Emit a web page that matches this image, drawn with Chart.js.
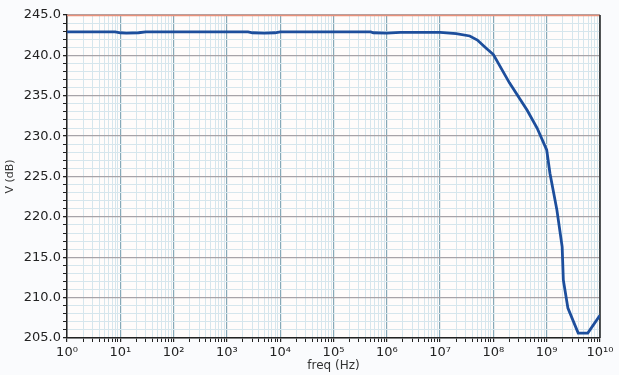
<!DOCTYPE html>
<html>
<head>
<meta charset="utf-8">
<script src="https://cdn.jsdelivr.net/npm/chart.js@4/dist/chart.umd.min.js"></script>
<style>
  html, body { margin: 0; padding: 0; background: #fafbfd; }
  #wrap { width: 619px; height: 375px; }
</style>
</head>
<body>
<div id="wrap"><canvas id="chartFreq" width="619" height="375"></canvas></div>
<script>
// ===============================
// DADOS
// ===============================
const freqHz = [1, 8, 10, 13, 22, 30, 100, 1000, 2500, 3000, 5000, 8000, 1e4, 1.3e4, 1e5, 5e5, 5.6e5, 1e6, 1.8e6, 3e6, 5e6,
                1e7, 2e7, 3.6e7, 5e7, 7.6e7, 1e8, 2e8, 4.3e8, 6.6e8, 1e9, 1.15e9, 1.55e9, 1.95e9, 2.05e9, 2.5e9, 3.9e9, 5.9e9, 1e10];
const vdB    = [242.9, 242.9, 242.8, 242.75, 242.8, 242.9, 242.9, 242.9, 242.9, 242.8, 242.75, 242.8, 242.9, 242.9, 242.9, 242.9, 242.8, 242.75, 242.85, 242.85, 242.85,
                242.85, 242.7, 242.4, 241.9, 240.8, 240.1, 236.6, 233.2, 231.0, 228.3, 225.4, 220.9, 216.3, 212.2, 208.7, 205.6, 205.6, 207.8];
const yTicks = [205, 210, 215, 220, 225, 230, 235, 240, 245];
const decades = [0, 1, 2, 3, 4, 5, 6, 7, 8, 9, 10];

const SUP = { "0": "\u2070", "1": "\u00b9", "2": "\u00b2", "3": "\u00b3", "4": "\u2074",
              "5": "\u2075", "6": "\u2076", "7": "\u2077", "8": "\u2078", "9": "\u2079" };
const sup = n => String(n).split("").map(c => SUP[c]).join("");

const isDecade = v => Math.abs(Math.log10(v) - Math.round(Math.log10(v))) < 1e-9;

// fundo da área do gráfico + moldura (topo vermelho, direita preta)
const plotFrame = {
    id: "plotFrame",
    beforeDraw(chart) {
        const { ctx, chartArea: a } = chart;
        ctx.save();
        ctx.fillStyle = "#fffcfb";
        ctx.fillRect(a.left, a.top, a.right - a.left, a.bottom - a.top);
        ctx.restore();
    },
    beforeDatasetsDraw(chart) {
        const { ctx, chartArea: a } = chart;
        ctx.save();
        ctx.lineWidth = 1.3;
        ctx.strokeStyle = "#e8907a";
        ctx.beginPath();
        ctx.moveTo(a.left, a.top + 0.5);
        ctx.lineTo(a.right, a.top + 0.5);
        ctx.stroke();
        ctx.lineWidth = 1.5;
        ctx.strokeStyle = "#222";
        ctx.beginPath();
        ctx.moveTo(a.right, a.top);
        ctx.lineTo(a.right, a.bottom);
        ctx.stroke();
        ctx.restore();
    }
};

new Chart(document.getElementById("chartFreq"), {
    type: "line",
    data: {
        datasets: [{
            label: "V (dB)",
            data: freqHz.map((f, i) => ({ x: f, y: vdB[i] })),
            borderColor: "#1d4e9c",
            borderWidth: 2.8,
            pointRadius: 0,
            tension: 0,
            fill: false
        }]
    },
    options: {
        responsive: false,
        animation: false,
        layout: { padding: { left: 0, right: 19, top: 15, bottom: 0 } },
        plugins: { legend: { display: false }, tooltip: { enabled: false } },
        scales: {
            x: {
                type: "logarithmic",
                min: 1,
                max: 1e10,
                afterBuildTicks(scale) {
                    const t = [];
                    decades.forEach(d => {
                        if (d === 10) { t.push({ value: 1e10 }); return; }
                        for (let m = 1; m <= 9; m++) t.push({ value: m * Math.pow(10, d) });
                    });
                    scale.ticks = t;
                },
                afterFit(scale) { scale.height = 37; },
                ticks: {
                    autoSkip: false,
                    maxRotation: 0,
                    padding: 3,
                    color: "#222",
                    font: { family: "DejaVu Sans", size: 13 },
                    callback: v => isDecade(v) ? "10" + sup(Math.round(Math.log10(v))) : ""
                },
                grid: {
                    color: c => isDecade(c.tick.value) ? "#86a9b8" : "#d6e6ed",
                    lineWidth: c => isDecade(c.tick.value) ? 1.2 : 1,
                    tickColor: "#222",
                    tickLength: 4
                },
                border: { color: "#222", width: 1.5 },
                title: {
                    display: true,
                    text: "freq (Hz)",
                    color: "#333",
                    font: { family: "DejaVu Sans", size: 12 },
                    padding: { top: 0, bottom: 2 }
                }
            },
            y: {
                min: 205,
                max: 245,
                afterBuildTicks(scale) {
                    const t = [];
                    for (let v = yTicks[0]; v <= yTicks[yTicks.length - 1]; v++) t.push({ value: v });
                    scale.ticks = t;
                },
                afterFit(scale) { scale.width = 67; },
                ticks: {
                    autoSkip: false,
                    padding: 2,
                    color: "#222",
                    font: { family: "DejaVu Sans", size: 13 },
                    callback: v => yTicks.includes(v) ? v.toFixed(1) : ""
                },
                grid: {
                    color: c => yTicks.includes(c.tick.value) ? "#a7a3a8" : "#d6e6ed",
                    lineWidth: c => yTicks.includes(c.tick.value) ? 1.3 : 1,
                    tickColor: "#222",
                    tickLength: 4
                },
                border: { color: "#222", width: 1.5 },
                title: {
                    display: true,
                    text: "V (dB)",
                    color: "#333",
                    font: { family: "DejaVu Sans", size: 11 },
                    padding: { top: 4, bottom: 0 }
                }
            }
        }
    },
    plugins: [plotFrame]
});
</script>
</body>
</html>
